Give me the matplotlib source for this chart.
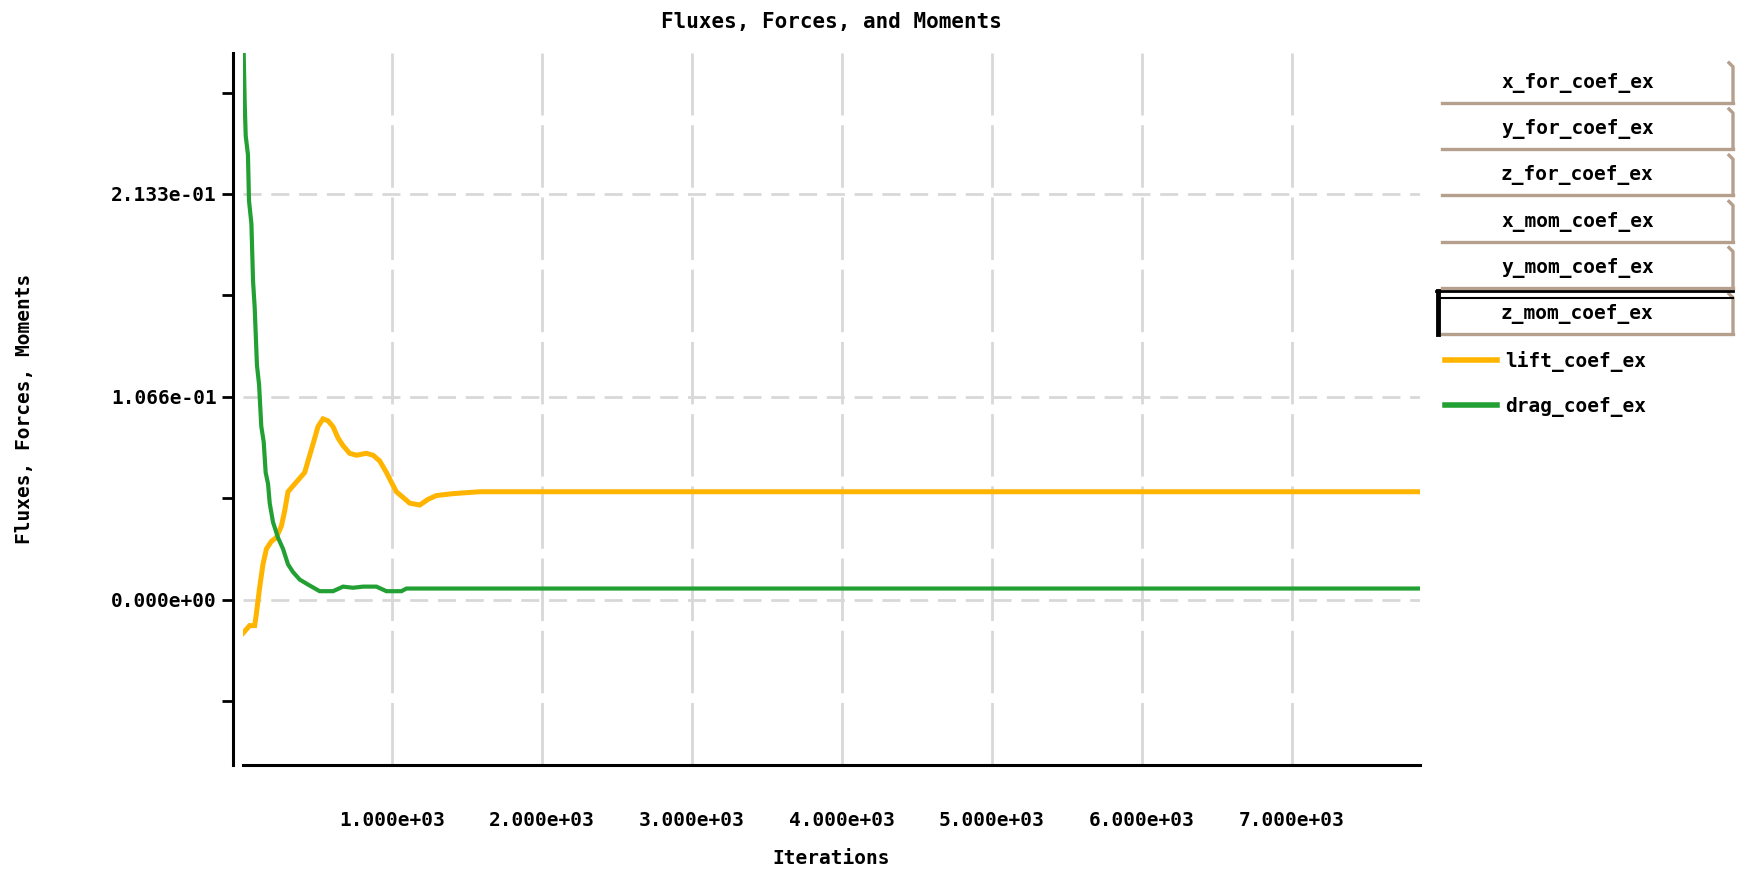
import numpy as np
import matplotlib.pyplot as plt
from matplotlib.lines import Line2D

plt.rcParams['font.family'] = ['DejaVu Sans Mono']
plt.rcParams['font.weight'] = 'bold'
plt.rcParams['lines.scale_dashes'] = False

# --- monitor history (iteration, coefficient) ---
drag_iter = [9, 20, 27, 42, 49, 65, 76, 87, 102, 116, 131, 147, 160, 176, 187, 209,
             242, 276, 309, 342, 387, 453, 520, 609, 676, 742, 809, 898, 965, 1065,
             1098, 7850]
drag_coef = [0.3050, 0.2621, 0.2439, 0.2339, 0.2097, 0.1976, 0.1674, 0.1534, 0.1232,
             0.1131, 0.0910, 0.0829, 0.0668, 0.0608, 0.0507, 0.0407, 0.0326, 0.0266,
             0.0185, 0.0145, 0.0105, 0.0074, 0.0044, 0.0044, 0.0068, 0.0062, 0.0068,
             0.0068, 0.0044, 0.0044, 0.0058, 0.0058]

lift_iter = [9, 53, 87, 98, 120, 142, 165, 198, 231, 265, 287, 309, 331, 376, 420,
             442, 465, 487, 509, 542, 576, 609, 642, 676, 720, 765, 831, 876, 920,
             965, 998, 1031, 1076, 1120, 1187, 1242, 1298, 1409, 1587, 7850]
lift_coef = [-0.0177, -0.0137, -0.0137, -0.0076, 0.0064, 0.0185, 0.0266, 0.0306,
             0.0326, 0.0387, 0.0467, 0.0567, 0.0587, 0.0628, 0.0668, 0.0728, 0.0789,
             0.0849, 0.0910, 0.0950, 0.0940, 0.0909, 0.0850, 0.0809, 0.0769, 0.0759,
             0.0769, 0.0759, 0.0729, 0.0668, 0.0617, 0.0567, 0.0537, 0.0507, 0.0497,
             0.0527, 0.0547, 0.0557, 0.0567, 0.0567]

x_ticks = [1000, 2000, 3000, 4000, 5000, 6000, 7000]
y_ticks = [0.0, 0.1066, 0.2133]
y_minor = [-0.0533, 0.0533, 0.1600, 0.2666]

tab_names = ['x_for_coef_ex', 'y_for_coef_ex', 'z_for_coef_ex',
             'x_mom_coef_ex', 'y_mom_coef_ex', 'z_mom_coef_ex']
line_names = ['lift_coef_ex', 'drag_coef_ex']
line_colors = ['#ffb400', '#23a033']

W, H = 1739, 871
fig = plt.figure(figsize=(W / 100, H / 100), dpi=100)
ax = fig.add_axes([243 / W, 1 - 765 / H, (1419.5 - 243) / W, (765 - 53.4) / H])

ax.plot(lift_iter, lift_coef, color=line_colors[0], lw=3.6, solid_joinstyle='miter')
ax.plot(drag_iter, drag_coef, color=line_colors[1], lw=3.0, solid_joinstyle='miter')

ax.set_xlim(9, 7850)
ax.set_ylim(-0.0870, 0.2872)

ax.set_xticks(x_ticks)
ax.set_xticklabels([f'{v:.3e}' for v in x_ticks])
ax.set_yticks(y_ticks)
ax.set_yticklabels([f'{v:.3e}' for v in y_ticks])
ax.set_yticks(y_minor, minor=True)

for v in x_ticks:
    ax.axvline(v, color='#d8d8d8', lw=2, dashes=(45, 7), zorder=0)
for v in y_ticks:
    ax.axhline(v, color='#d8d8d8', lw=2, dashes=(13, 7), zorder=0)

for s in ['top', 'right']:
    ax.spines[s].set_visible(False)
ax.spines['left'].set_position(('outward', 7))
ax.spines['left'].set_linewidth(2.2)
ax.spines['bottom'].set_linewidth(2.2)

ax.tick_params(axis='y', which='both', direction='out', length=8, width=2, pad=4, labelsize=14)
ax.tick_params(axis='x', which='both', direction='out', length=0, pad=33, labelsize=14)

ax.set_title('Fluxes, Forces, and Moments', fontsize=15, fontweight='bold', pad=18)
ax.set_xlabel('Iterations', fontsize=14, fontweight='bold', va='top')
ax.xaxis.set_label_coords(0.5, -0.118)
ax.set_ylabel('Fluxes, Forces, Moments', fontsize=14, fontweight='bold')
ax.yaxis.set_label_coords(-0.178, 0.5)

# --- legend panel: tab buttons then line entries ---
def fx(px):
    return px / W

def fy(py):
    return 1 - py / H

brown = '#b5a08e'
tab_h = 46.2
for i, name in enumerate(tab_names):
    bot = 103 + i * tab_h
    top = bot - tab_h + 6
    fig.add_artist(Line2D([fx(1442), fx(1733)], [fy(bot), fy(bot)], color=brown, lw=2.4))
    fig.add_artist(Line2D([fx(1733), fx(1733), fx(1729)], [fy(bot), fy(top + 4), fy(top)],
                          color=brown, lw=2.4))
    fig.text(fx(1501), fy(bot - 20), name, fontsize=14, fontweight='bold',
             va='center', ha='left')
    if i == len(tab_names) - 1:
        fig.add_artist(Line2D([fx(1436), fx(1733)], [fy(top - 3), fy(top - 3)], color='black', lw=2))
        fig.add_artist(Line2D([fx(1438), fx(1733)], [fy(top + 4), fy(top + 4)], color='black', lw=1.5))
        fig.add_artist(Line2D([fx(1438), fx(1438)], [fy(top - 3), fy(bot)], color='black', lw=3.5))

for j, (name, c) in enumerate(zip(line_names, line_colors)):
    yy = 360 + j * 45
    fig.add_artist(Line2D([fx(1445), fx(1497)], [fy(yy), fy(yy)], color=c, lw=4))
    fig.text(fx(1505), fy(yy + 2), name, fontsize=14, fontweight='bold', va='center', ha='left')

fig.savefig('out.png', dpi=100)
